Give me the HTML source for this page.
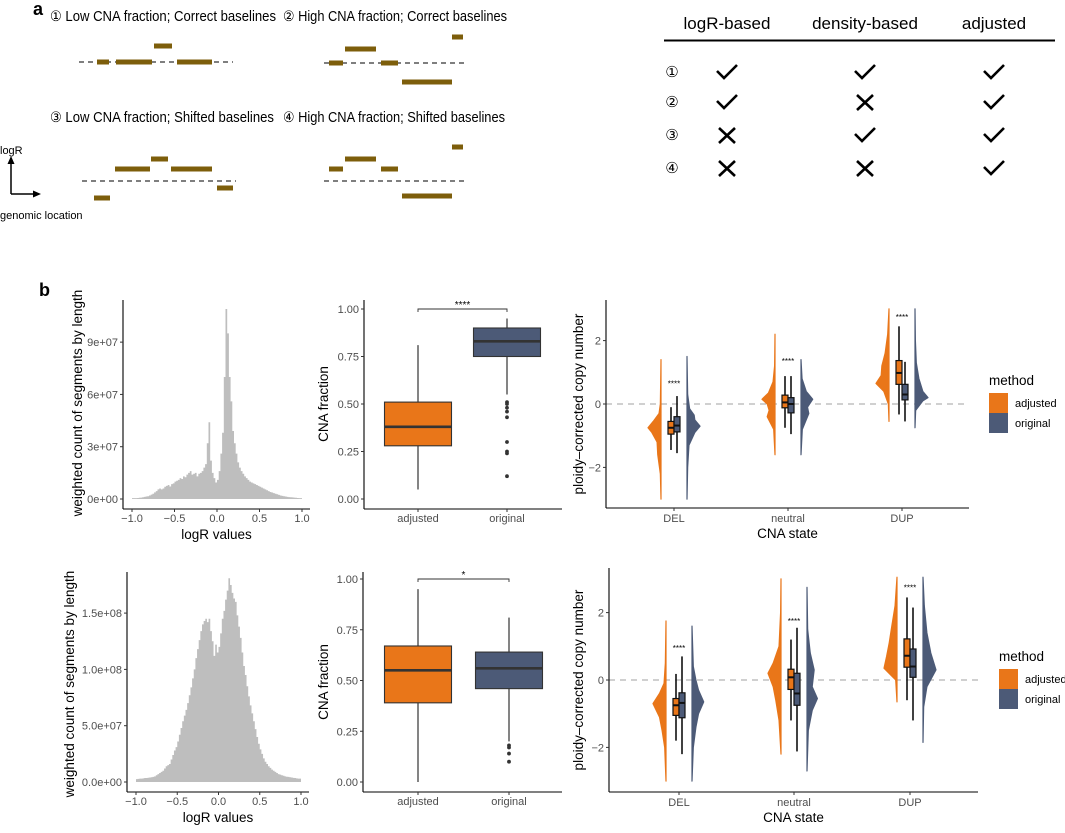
<!DOCTYPE html>
<html><head><meta charset="utf-8"><style>
html,body{margin:0;padding:0;background:#fff;}
svg{display:block;font-family:"Liberation Sans","DejaVu Sans",sans-serif;}
</style></head><body>
<svg id="fig" width="1065" height="833" viewBox="0 0 1065 833" xmlns="http://www.w3.org/2000/svg">
<g id="panelA">
<text x="33" y="15" font-size="18" font-weight="bold">a</text>
<text x="50" y="21" font-size="14.5" textLength="226" lengthAdjust="spacingAndGlyphs">① Low CNA fraction; Correct baselines</text>
<text x="283" y="21" font-size="14.5" textLength="224" lengthAdjust="spacingAndGlyphs">② High CNA fraction; Correct baselines</text>
<text x="50" y="122" font-size="14.5" textLength="224" lengthAdjust="spacingAndGlyphs">③ Low CNA fraction; Shifted baselines</text>
<text x="283" y="122" font-size="14.5" textLength="222" lengthAdjust="spacingAndGlyphs">④ High CNA fraction; Shifted baselines</text>
<g id="segs"></g>
<g>
<line x1="11" y1="194" x2="11" y2="162" stroke="#000" stroke-width="1.5"/>
<polygon points="11,156 7.5,164 14.5,164" fill="#000"/>
<line x1="11" y1="194" x2="35" y2="194" stroke="#000" stroke-width="1.5"/>
<polygon points="41,194 33,190.5 33,197.5" fill="#000"/>
<text x="0" y="154" font-size="11">logR</text>
<text x="0" y="219" font-size="11">genomic location</text>
</g>
<g>
<text x="727" y="29" font-size="17" text-anchor="middle">logR-based</text>
<text x="865" y="29" font-size="17" text-anchor="middle">density-based</text>
<text x="994" y="29" font-size="17" text-anchor="middle">adjusted</text>
<line x1="664" y1="40.5" x2="1055" y2="40.5" stroke="#000" stroke-width="2"/>
<g id="tbl"></g>
</g>
</g>
<text x="39" y="296" font-size="18" font-weight="bold">b</text>
<g id="plots"></g>
</svg>
<script>
// ---- data ----
const segColor = "#7d5e0b";
// panel a segments: [x1, x2, y]
const seg1 = [[97,109,62],[116,152,62],[177,212,62],[154,172,46]];
const seg2 = [[329,343,63],[381,398,63],[345,376,49],[452,463,37],[402,452,82]];
const seg3 = [[115,150,169],[151,168,159],[171,212,169],[94,110,198],[217,233,188]];
const seg4 = [[329,343,169],[345,376,159],[381,398,169],[452,463,147],[402,452,196]];
const baselines = [[79,233,62],[324,468,63],[82,236,181],[324,468,181]];
const tableRows = ["①","②","③","④"];
const tableMarks = [[1,1,1],[1,0,1],[0,1,1],[0,0,1]];

const hist1Values = [0.05,0.05,0.05,0.06,0.07,0.08,0.1,0.12,0.14,0.16,
0.2,0.25,0.3,0.38,0.45,0.55,0.6,0.55,0.6,0.7,
0.75,0.8,0.72,0.85,0.9,1.0,1.05,1.1,1.2,1.15,
1.3,1.25,1.4,1.5,1.6,1.4,1.45,1.5,1.3,1.45,
1.5,1.6,1.8,2.0,3.2,4.4,2.2,1.5,1.2,0.95,
1.1,1.6,2.6,3.8,7.0,10.9,9.5,7.0,5.6,3.9,
3.2,2.6,2.1,1.8,1.6,1.45,1.3,1.2,1.1,1.0,
0.95,0.9,0.85,0.8,0.75,0.7,0.65,0.6,0.55,0.5,
0.45,0.4,0.37,0.34,0.3,0.27,0.24,0.2,0.18,0.16,
0.14,0.12,0.11,0.1,0.09,0.08,0.07,0.06,0.05,0.05];
const hist2Values = [0.25,0.28,0.3,0.3,0.32,0.35,0.35,0.38,0.4,0.42,
0.45,0.5,0.6,0.7,0.8,0.9,1.0,1.2,1.4,1.5,
1.6,2.0,2.4,2.8,3.1,3.6,4.2,4.8,5.4,5.9,
6.4,7.0,7.7,8.4,9.2,10.0,11.0,11.8,12.6,13.4,
14.0,14.3,14.5,14.2,14.5,13.4,12.5,11.2,12.2,11.5,
12.0,13.2,14.5,15.2,16.2,17.0,18.1,17.5,16.8,16.3,
16.0,14.8,13.8,12.8,11.5,10.3,9.5,8.5,7.6,6.8,
6.1,5.4,4.7,4.0,3.4,2.9,2.5,2.1,1.8,1.6,
1.4,1.25,1.1,1.0,0.9,0.8,0.7,0.65,0.6,0.55,
0.5,0.47,0.45,0.42,0.4,0.37,0.35,0.32,0.3,0.3];
const hist1Ticks = [0,3,6,9];
const hist1TickLabels = ["0e+00","3e+07","6e+07","9e+07"];
const hist2Ticks = [0,5,10,15];
const hist2TickLabels = ["0.0e+00","5.0e+07","1.0e+08","1.5e+08"];
const logRTicks = [-1,-0.5,0,0.5,1];
const logRTickLabels = ["\u22121.0","\u22120.5","0.0","0.5","1.0"];

const boxCats = ["adjusted","original"];
const fracTicks = [0,0.25,0.5,0.75,1];
const fracTickLabels = ["0.00","0.25","0.50","0.75","1.00"];
// [low, q1, median, q3, high]
const box1Stats = [[0.05,0.28,0.38,0.51,0.81],[0.55,0.75,0.83,0.90,0.95]];
const box1Outliers = [[],[0.51,0.50,0.48,0.46,0.43,0.30,0.25,0.24,0.12]];
const box2Stats = [[0.0,0.39,0.55,0.67,0.95],[0.20,0.46,0.56,0.64,0.81]];
const box2Outliers = [[],[0.18,0.17,0.14,0.10]];

const cnaStates = ["DEL","neutral","DUP"];
const cnTicks = [-2,0,2];
const cnTickLabels = ["\u22122","0","2"];
// violin densities: [value, relative density]
const vio1Adj = [
 [[-3,0],[-2.2,0.05],[-1.6,0.25],[-1.2,0.3],[-0.9,0.7],[-0.75,1],[-0.55,0.6],[-0.3,0.15],[0,0.05],[0.8,0.02],[1.4,0]],
 [[-1.6,0],[-0.8,0.1],[-0.4,0.6],[-0.2,0.45],[0,0.6],[0.15,1],[0.35,0.5],[0.7,0.15],[1.2,0.03],[2.2,0]],
 [[-0.55,0],[0,0.05],[0.4,0.4],[0.65,1],[0.9,0.6],[1.2,0.55],[1.6,0.3],[2.2,0.1],[3,0]]];
const vio1Orig = [
 [[-3,0],[-2,0.05],[-1.3,0.15],[-0.9,0.6],[-0.7,1],[-0.5,0.6],[-0.35,0.55],[-0.15,0.2],[0.3,0.05],[1.5,0]],
 [[-1.6,0],[-0.8,0.1],[-0.3,0.6],[-0.1,0.5],[0.15,0.9],[0.4,0.4],[0.8,0.08],[1.4,0]],
 [[-0.75,0],[-0.2,0.05],[0.1,0.6],[0.2,1],[0.4,0.6],[0.8,0.3],[1.3,0.1],[2,0.03],[3,0]]];
const vio1BoxAdj = [[-1.45,-0.95,-0.75,-0.55,-0.1],[-0.75,-0.12,0.05,0.28,0.88],[-0.33,0.62,0.98,1.37,2.45]];
const vio1BoxOrig = [[-1.55,-0.88,-0.68,-0.4,0.25],[-0.95,-0.28,0.0,0.2,0.88],[-0.55,0.13,0.3,0.62,1.33]];
const vio1Stars = [0.65,1.35,2.75];
const vio2Adj = [
 [[-3,0],[-2,0.1],[-1.5,0.3],[-1.1,0.5],[-0.7,1],[-0.4,0.5],[-0.1,0.15],[0.5,0.05],[1.75,0]],
 [[-2.2,0],[-1.2,0.15],[-0.6,0.4],[-0.2,0.6],[0.2,1],[0.5,0.6],[1,0.15],[2,0.03],[3,0]],
 [[-0.65,0],[0,0.1],[0.35,1],[0.7,0.8],[1.1,0.6],[1.6,0.4],[2.2,0.15],[3.05,0]]];
const vio2Orig = [
 [[-3,0],[-2,0.1],[-1.4,0.3],[-1.0,0.5],[-0.65,0.9],[-0.3,0.5],[0,0.3],[0.4,0.1],[1.6,0]],
 [[-2.7,0],[-1.5,0.1],[-0.9,0.4],[-0.55,0.8],[-0.2,0.4],[0.3,0.55],[0.8,0.25],[1.5,0.05],[2.75,0]],
 [[-1.85,0],[-0.8,0.05],[-0.2,0.3],[0.3,1],[0.8,0.6],[1.4,0.3],[2.2,0.1],[3.05,0]]];
const vio2BoxAdj = [[-1.8,-1.05,-0.75,-0.55,0.18],[-1.2,-0.28,0.08,0.32,1.2],[-0.6,0.38,0.72,1.22,2.45]];
const vio2BoxOrig = [[-2.2,-1.12,-0.68,-0.38,0.7],[-2.12,-0.75,-0.4,0.2,1.55],[-1.2,0.08,0.4,0.92,2.15]];
const vio2Stars = [0.95,1.75,2.75];

const ORANGE = "#E97619", SLATE = "#4C5A77", GRAY = "#bebebe", TICKC = "#4d4d4d";
const NS = "http://www.w3.org/2000/svg";
function mk(parent, tag, attrs, text){
  const e = document.createElementNS(NS, tag);
  for (const k in attrs) e.setAttribute(k, attrs[k]);
  if (text !== undefined) e.textContent = text;
  parent.appendChild(e); return e;
}

// ---- panel a ----
const segG = document.getElementById('segs');
baselines.forEach(b => {
  const l = mk(segG,'line',{x1:b[0],y1:b[2],x2:b[1],y2:b[2],stroke:'#333','stroke-width':1.3,'stroke-dasharray':'5,4'});
  
  
});
[seg1,seg2,seg3,seg4].forEach((arr,pi) => arr.forEach(s => {
  const r = mk(segG,'rect',{x:s[0],y:s[2]-2.5,width:s[1]-s[0],height:5,fill:segColor});
  
  
}));
const tbl = document.getElementById('tbl');
const rowY = [72,102,135,168], colX = [727,865,994];
tableRows.forEach((lab,i) => {
  const t = mk(tbl,'text',{x:672,y:rowY[i]+5,'font-size':15,'text-anchor':'middle'},lab);
  
  
  tableMarks[i].forEach((m,j) => {
    const cx = colX[j], cy = rowY[i];
    let p;
    if (m) p = mk(tbl,'path',{d:`M${cx-10},${cy-1} L${cx-3},${cy+6} L${cx+10},${cy-7}`,fill:'none',stroke:'#000','stroke-width':2.6});
    else p = mk(tbl,'path',{d:`M${cx-8},${cy-7} L${cx+8},${cy+8} M${cx+8},${cy-7} L${cx-8},${cy+8}`,fill:'none',stroke:'#000','stroke-width':2.6});
    
    
  });
});

// ---- panel b ----
const plots = document.getElementById('plots');
function axes(g, L, T, R, B){
  mk(g,'line',{x1:L,y1:T,x2:L,y2:B,stroke:'#000','stroke-width':1.1});
  mk(g,'line',{x1:L,y1:B,x2:R,y2:B,stroke:'#000','stroke-width':1.1});
}
function yTicks(g, L, ticks, labels, Y){
  ticks.forEach((v,i) => {
    const y = Y(v);
    mk(g,'line',{x1:L-3,y1:y,x2:L,y2:y,stroke:'#333','stroke-width':1});
    const t = mk(g,'text',{x:L-5,y:y+4,'font-size':11,fill:TICKC,'text-anchor':'end'},labels[i]);
    
    
  });
}
function xTicks(g, B, pos, labels, ty){
  pos.forEach((x,i) => {
    mk(g,'line',{x1:x,y1:B,x2:x,y2:B+3,stroke:'#333','stroke-width':1});
    const t = mk(g,'text',{x:x,y:ty,'font-size':11,fill:TICKC,'text-anchor':'middle'},labels[i]);
    
    
  });
}
function title(g, x, y, txt, rot, name){
  const t = mk(g,'text',{x:x,y:y,'font-size':13.5,'text-anchor':'middle',transform: rot?`rotate(-90 ${x} ${y})`:''},txt);
  
  
}

function histogram(cfg){
  const g = mk(plots,'g',{});
  
  
  const X = v => cfg.xm1 + (v+1)*(cfg.xp1-cfg.xm1)/2;
  const Y = v => cfg.y0 - v*cfg.pxPer;
  const n = cfg.values.length, w = 2/n;
  let d = `M${X(-1)},${Y(0)}`;
  cfg.values.forEach((v,i) => { d += ` L${X(-1+i*w)},${Y(v)} L${X(-1+(i+1)*w)},${Y(v)}`; });
  d += ` L${X(1)},${Y(0)} Z`;
  const p = mk(g,'path',{d:d,fill:GRAY});
  
  
  axes(g, cfg.L, cfg.T, cfg.R, cfg.B);
  yTicks(g, cfg.L, cfg.ticks, cfg.tickLabels, Y);
  xTicks(g, cfg.B, logRTicks.map(X), logRTickLabels, cfg.B+13);
  title(g, (cfg.L+cfg.R)/2, cfg.B+30, 'logR values', false, 'x-axis-title');
  title(g, cfg.yTitleX, cfg.yTitleY, 'weighted count of segments by length', true, 'y-axis-title');
}
histogram({name:'histogram-top', values:hist1Values, xm1:132, xp1:302, y0:499, pxPer:17.43, L:123, T:300, R:310, B:509, ticks:hist1Ticks, tickLabels:hist1TickLabels, yTitleX:82, yTitleY:403});
histogram({name:'histogram-bottom', values:hist2Values, xm1:136, xp1:301, y0:782, pxPer:11.26, L:127, T:572, R:309, B:792, ticks:hist2Ticks, tickLabels:hist2TickLabels, yTitleX:74, yTitleY:684});

function boxplot(cfg){
  const g = mk(plots,'g',{});
  
  
  const Y = v => cfg.y0 - v*cfg.pxPer;
  const xs = [418, cfg.xOrig], cols = [ORANGE, SLATE], bw = 67;
  cfg.stats.forEach((s,i) => {
    const x = xs[i];
    mk(g,'line',{x1:x,y1:Y(s[0]),x2:x,y2:Y(s[4]),stroke:'#333','stroke-width':1.2});
    const r = mk(g,'rect',{x:x-bw/2,y:Y(s[3]),width:bw,height:Y(s[1])-Y(s[3]),fill:cols[i],stroke:'#333','stroke-width':1.1});
    
    
    mk(g,'line',{x1:x-bw/2,y1:Y(s[2]),x2:x+bw/2,y2:Y(s[2]),stroke:'#333','stroke-width':2.6});
    cfg.outliers[i].forEach(o => {
      const c = mk(g,'circle',{cx:x,cy:Y(o),r:1.9,fill:'#333'});
      
      
    });
  });
  const by = Y(1.0);
  mk(g,'path',{d:`M${xs[0]},${by+3} L${xs[0]},${by} L${xs[1]},${by} L${xs[1]},${by+3}`,fill:'none',stroke:'#333','stroke-width':0.9});
  const st = mk(g,'text',{x:(xs[0]+xs[1])/2,y:by-1,'font-size':10,'text-anchor':'middle',fill:'#000'},cfg.sig);
  
  
  axes(g, cfg.L, cfg.T, cfg.R, cfg.B);
  yTicks(g, cfg.L, fracTicks, fracTickLabels, Y);
  xTicks(g, cfg.B, xs, boxCats, cfg.B+13);
  title(g, 328, cfg.yTitleY, 'CNA fraction', true, 'y-axis-title');
}
boxplot({name:'boxplot-top', stats:box1Stats, outliers:box1Outliers, y0:499, pxPer:190, xOrig:507, L:364, T:300, R:562, B:509, sig:'****', yTitleY:404});
boxplot({name:'boxplot-bottom', stats:box2Stats, outliers:box2Outliers, y0:782, pxPer:203, xOrig:509, L:363, T:572, R:562, B:792, sig:'*', yTitleY:682});

function violinPlot(cfg){
  const g = mk(plots,'g',{});
  
  
  const Y = v => cfg.y0 - v*cfg.pxPer;
  mk(g,'line',{x1:cfg.L,y1:Y(0),x2:cfg.R,y2:Y(0),stroke:'#b3b3b3','stroke-width':1.2,'stroke-dasharray':'6,5'});
  const W = 13;
  cnaStates.forEach((cat,i) => {
    const cx = cfg.cats[i];
    [[cfg.adj[i],-1,ORANGE,'adjusted'],[cfg.orig[i],1,SLATE,'original']].forEach(([pts,side,col,nm]) => {
      const x0 = cx + side*13;
      let d = `M${x0},${Y(pts[0][0])}`;
      pts.forEach(p => { d += ` L${x0+side*p[1]*W},${Y(p[0])}`; });
      d += ` L${x0},${Y(pts[pts.length-1][0])} Z`;
      const v = mk(g,'path',{d:d,fill:col,stroke:col,'stroke-width':1.2,'stroke-linejoin':'round'});
      
      
    });
    [[cfg.badj[i],cx-3,ORANGE,'adjusted'],[cfg.borig[i],cx+3,SLATE,'original']].forEach(([s,x,col,nm]) => {
      mk(g,'line',{x1:x,y1:Y(s[0]),x2:x,y2:Y(s[4]),stroke:'#111','stroke-width':1.6});
      const r = mk(g,'rect',{x:x-3,y:Y(s[3]),width:6,height:Y(s[1])-Y(s[3]),fill:col,stroke:'#111','stroke-width':1.2});
      
      
      mk(g,'line',{x1:x-3,y1:Y(s[2]),x2:x+3,y2:Y(s[2]),stroke:'#111','stroke-width':2});
    });
    const st = mk(g,'text',{x:cx,y:Y(cfg.stars[i])+3,'font-size':8,'text-anchor':'middle'},'****');
    
    
  });
  axes(g, cfg.L, cfg.T, cfg.R, cfg.B);
  yTicks(g, cfg.L, cnTicks, cnTickLabels, Y);
  xTicks(g, cfg.B, cfg.cats, cnaStates, cfg.B+14);
  title(g, (cfg.L+cfg.R)/2, cfg.B+30, 'CNA state', false, 'x-axis-title');
  title(g, 583, Y(0), 'ploidy\u2013corrected copy number', true, 'y-axis-title');
  const lg = mk(g,'g',{});
  
  
  const lx = cfg.legX, ly = cfg.legY;
  const lt = mk(lg,'text',{x:lx,y:ly,'font-size':13.5},'method');
  
  
  [['adjusted',ORANGE],['original',SLATE]].forEach(([lab,col],k) => {
    const sw = mk(lg,'rect',{x:lx,y:ly+8+k*20,width:19,height:20,fill:col});
    
    
    const t = mk(lg,'text',{x:lx+26,y:ly+22+k*20,'font-size':11},lab);
    
    
  });
}
violinPlot({name:'violin-top', adj:vio1Adj, orig:vio1Orig, badj:vio1BoxAdj, borig:vio1BoxOrig, stars:vio1Stars, y0:404, pxPer:31.7, cats:[674,788,902], L:606, T:300, R:969, B:508, legX:989, legY:385});
violinPlot({name:'violin-bottom', adj:vio2Adj, orig:vio2Orig, badj:vio2BoxAdj, borig:vio2BoxOrig, stars:vio2Stars, y0:680, pxPer:33.7, cats:[679,794,910], L:609, T:568, R:978, B:792, legX:999, legY:661});
</script>
</body></html>
